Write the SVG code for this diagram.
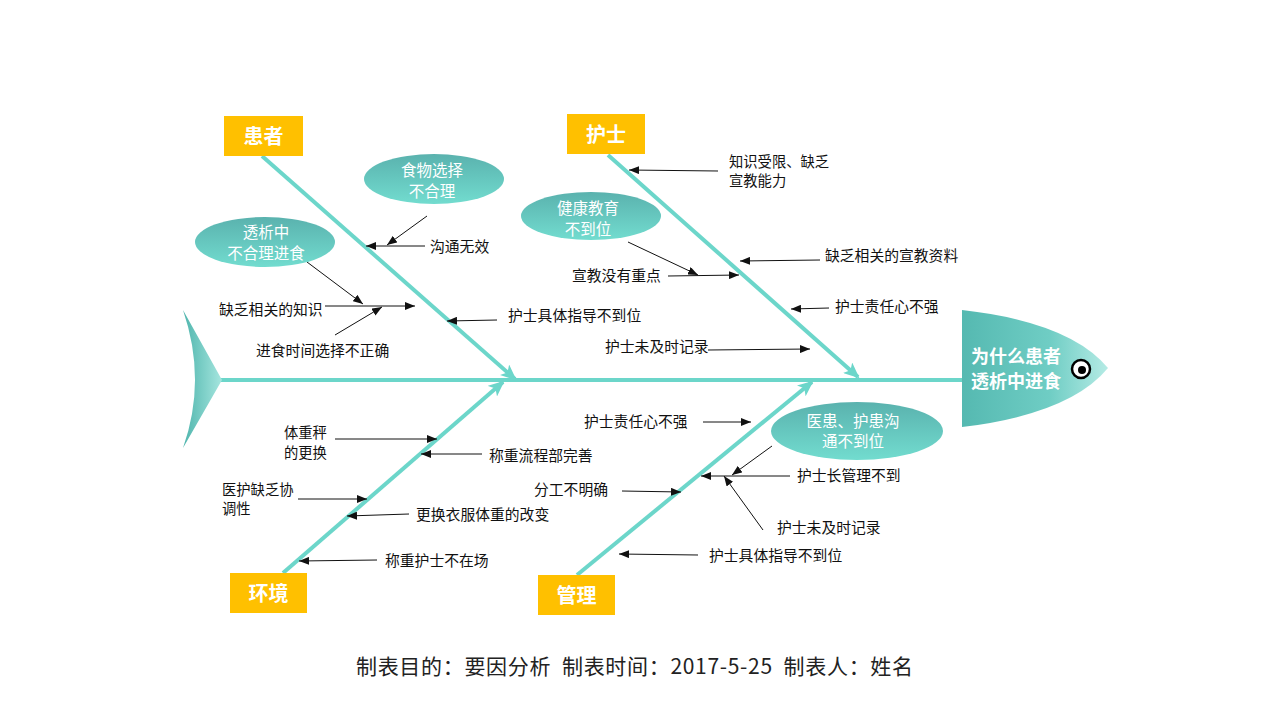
<svg xmlns="http://www.w3.org/2000/svg" width="1280" height="720" viewBox="0 0 1280 720">
<defs>
<style>
.bone{stroke:#6cd6ca;stroke-width:4;fill:none}
.lbl{font-family:"Noto Sans CJK SC","Noto Sans",sans-serif;font-size:14.8px;fill:#111}
.lbl2{font-family:"Noto Sans CJK SC","Noto Sans",sans-serif;font-size:14.3px;fill:#111}
.ell{font-family:"Noto Sans CJK SC","Noto Sans",sans-serif;font-size:15.5px;fill:#fff;text-anchor:middle}
.box{fill:#ffc000}
.boxt{font-family:"Noto Sans CJK SC","Noto Sans",sans-serif;font-size:20px;font-weight:bold;fill:#fff;text-anchor:middle}
.ar{stroke:#111;stroke-width:1;fill:none;marker-end:url(#ah)}
</style>
<marker id="ah" markerUnits="userSpaceOnUse" markerWidth="10" markerHeight="8" refX="10" refY="4" orient="auto"><path d="M0,0 L10,4 L0,8 Z" fill="#111"/></marker>
<marker id="bh" markerUnits="userSpaceOnUse" markerWidth="16" markerHeight="14" refX="14" refY="7" orient="auto"><path d="M0,0 L16,7 L0,14 L4,7 Z" fill="#6cd6ca"/></marker>
<linearGradient id="eg" x1="0" y1="0" x2="0" y2="1"><stop offset="0" stop-color="#5ab2ae"/><stop offset="1" stop-color="#72dccf"/></linearGradient>
<linearGradient id="hg" x1="0" y1="0" x2="1" y2="0"><stop offset="0" stop-color="#55b9b1"/><stop offset="0.6" stop-color="#6fcdc4"/><stop offset="1" stop-color="#b5ebe5"/></linearGradient>
<linearGradient id="tg" x1="0" y1="0" x2="1" y2="0"><stop offset="0" stop-color="#4fb5ad"/><stop offset="1" stop-color="#a6e6df"/></linearGradient>
</defs>
<rect width="1280" height="720" fill="#fff"/>

<g id="connectors">
<line class="bone" x1="220" y1="380" x2="964" y2="380"/>
<line class="bone" x1="262" y1="156" x2="515" y2="379" marker-end="url(#bh)"/>
<line class="bone" x1="608" y1="155" x2="858" y2="377" marker-end="url(#bh)"/>
<line class="bone" x1="283" y1="573" x2="503" y2="382" marker-end="url(#bh)"/>
<line class="bone" x1="577" y1="575" x2="812" y2="382" marker-end="url(#bh)"/>
<line class="ar" x1="427" y1="216" x2="387" y2="245"/>
<line class="ar" x1="425" y1="246" x2="366" y2="246"/>
<line class="ar" x1="325" y1="306" x2="415" y2="306"/>
<line class="ar" x1="307" y1="262" x2="363" y2="304"/>
<line class="ar" x1="335" y1="335" x2="382" y2="307"/>
<line class="ar" x1="497" y1="320" x2="447" y2="321"/>
<line class="ar" x1="718" y1="171" x2="629" y2="170"/>
<line class="ar" x1="668" y1="276" x2="739" y2="275"/>
<line class="ar" x1="628" y1="242" x2="698" y2="275"/>
<line class="ar" x1="820" y1="260" x2="740" y2="261"/>
<line class="ar" x1="829" y1="308" x2="791" y2="309"/>
<line class="ar" x1="708" y1="350" x2="810" y2="349"/>
<line class="ar" x1="335" y1="439" x2="437" y2="439"/>
<line class="ar" x1="482" y1="454" x2="421" y2="454"/>
<line class="ar" x1="298" y1="499" x2="367" y2="499"/>
<line class="ar" x1="409" y1="514" x2="347" y2="516"/>
<line class="ar" x1="377" y1="560" x2="299" y2="561"/>
<line class="ar" x1="703" y1="422" x2="751" y2="422"/>
<line class="ar" x1="790" y1="476" x2="701" y2="476"/>
<line class="ar" x1="772" y1="446" x2="732" y2="475"/>
<line class="ar" x1="763" y1="530" x2="724" y2="476"/>
<line class="ar" x1="622" y1="491" x2="681" y2="492"/>
<line class="ar" x1="698" y1="555" x2="619" y2="554"/>
</g>

<g id="tail"><path d="M183,310 L222,380 L183,448 Q207,380 183,310 Z" fill="url(#tg)"/></g>

<g id="head">
<path d="M962,310 Q1070,322 1108,368 Q1070,414 962,427 Z" fill="url(#hg)"/>
<text font-family="Noto Sans CJK SC,sans-serif" font-size="18" font-weight="bold" fill="#fff" text-anchor="middle"><tspan x="1016" y="363">为什么患者</tspan><tspan x="1016" y="387.5">透析中进食</tspan></text>
<circle cx="1081" cy="369" r="9" fill="#fff" stroke="#000" stroke-width="2.5"/>
<circle cx="1082" cy="370" r="4" fill="#000"/>
</g>

<g id="cat-patient"><rect class="box" x="224" y="116" width="79" height="40"/><text class="boxt" x="263.5" y="144">患者</text></g>
<g id="cat-nurse"><rect class="box" x="567" y="114" width="78" height="40"/><text class="boxt" x="606" y="142">护士</text></g>
<g id="cat-env"><rect class="box" x="230" y="573" width="77" height="40"/><text class="boxt" x="268.5" y="601">环境</text></g>
<g id="cat-mgmt"><rect class="box" x="538" y="575" width="77" height="40"/><text class="boxt" x="576.5" y="603">管理</text></g>

<g id="ell-food"><ellipse cx="434" cy="179" rx="70" ry="25" fill="url(#eg)"/><text class="ell"><tspan x="432" y="176">食物选择</tspan><tspan x="432" y="197">不合理</tspan></text></g>
<g id="ell-eat"><ellipse cx="265" cy="242" rx="70" ry="25" fill="url(#eg)"/><text class="ell"><tspan x="266" y="238">透析中</tspan><tspan x="266" y="259">不合理进食</tspan></text></g>
<g id="ell-edu"><ellipse cx="591" cy="216" rx="70" ry="24" fill="url(#eg)"/><text class="ell"><tspan x="588" y="214">健康教育</tspan><tspan x="588" y="235">不到位</tspan></text></g>
<g id="ell-comm"><ellipse cx="857" cy="431" rx="86" ry="29" fill="url(#eg)"/><text class="ell"><tspan x="853" y="427">医患、护患沟</tspan><tspan x="853" y="447">通不到位</tspan></text></g>

<g id="labels">
<text class="lbl" x="430" y="252">沟通无效</text>
<text class="lbl" x="219" y="315">缺乏相关的知识</text>
<text class="lbl" x="256" y="356">进食时间选择不正确</text>
<text class="lbl" x="508" y="321">护士具体指导不到位</text>
<text class="lbl2"><tspan x="729" y="166.5">知识受限、缺乏</tspan><tspan x="729" y="186">宣教能力</tspan></text>
<text class="lbl" x="572" y="281">宣教没有重点</text>
<text class="lbl" x="825" y="261">缺乏相关的宣教资料</text>
<text class="lbl" x="835" y="312">护士责任心不强</text>
<text class="lbl" x="605" y="352">护士未及时记录</text>
<text class="lbl2"><tspan x="284" y="438">体重秤</tspan><tspan x="284" y="457.5">的更换</tspan></text>
<text class="lbl" x="489" y="461">称重流程部完善</text>
<text class="lbl2"><tspan x="222" y="494.5">医护缺乏协</tspan><tspan x="222" y="514">调性</tspan></text>
<text class="lbl" x="416" y="520">更换衣服体重的改变</text>
<text class="lbl" x="385" y="566">称重护士不在场</text>
<text class="lbl" x="584" y="427">护士责任心不强</text>
<text class="lbl" x="797" y="481">护士长管理不到</text>
<text class="lbl" x="777" y="533">护士未及时记录</text>
<text class="lbl" x="534" y="495">分工不明确</text>
<text class="lbl" x="709" y="561">护士具体指导不到位</text>
</g>

<g id="footer"><text x="356" y="674" font-family="Noto Sans CJK SC,sans-serif" font-size="21" fill="#222" textLength="557" lengthAdjust="spacing" xml:space="preserve">制表目的：要因分析  制表时间：2017-5-25  制表人：姓名</text></g>
</svg>
